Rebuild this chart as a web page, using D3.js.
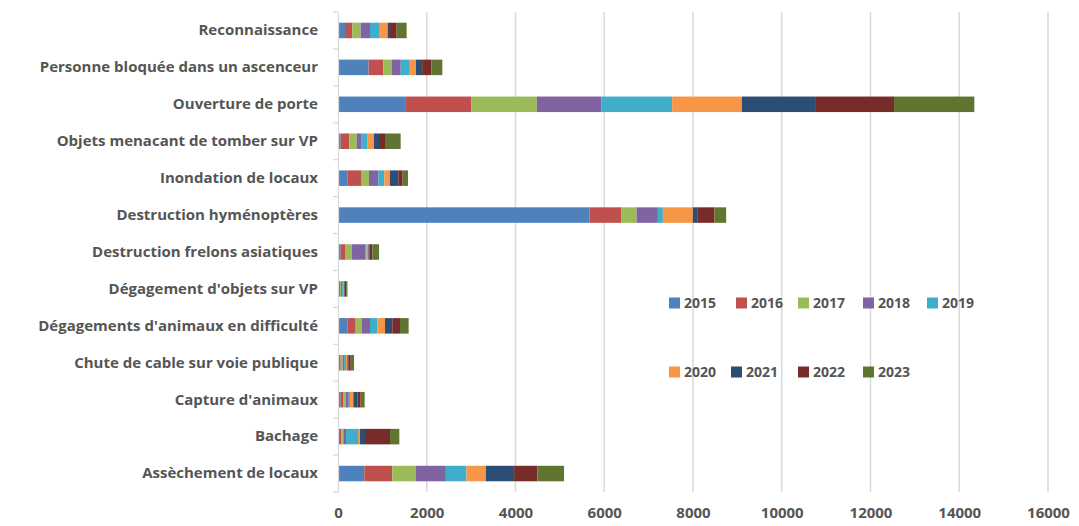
<!DOCTYPE html>
<html><head><meta charset="utf-8">
<script src="https://cdn.jsdelivr.net/npm/d3@7"></script>
<style>
html,body{margin:0;padding:0;background:#fff;}
svg{display:block;}
text{font-family:"Open Sans","DejaVu Sans",sans-serif;}
</style></head>
<body><svg id="c" width="1079" height="526"></svg>
<script>
const categories = ["Reconnaissance","Personne bloquée dans un ascenceur","Ouverture de porte","Objets menacant de tomber sur VP","Inondation de locaux","Destruction hyménoptères","Destruction frelons asiatiques","Dégagement d'objets sur VP","Dégagements d'animaux en difficulté","Chute de cable sur voie publique","Capture d'animaux","Bachage","Assèchement de locaux"];
const years = ["2015","2016","2017","2018","2019","2020","2021","2022","2023"];
const v2015 = [158, 690, 1530, 60, 210, 5670, 60, 23, 210, 23, 60, 23, 593];
const v2016 = [165, 330, 1470, 195, 323, 720, 98, 23, 188, 38, 53, 53, 630];
const v2017 = [188, 195, 1480, 165, 165, 338, 150, 23, 135, 45, 60, 45, 533];
const v2018 = [210, 198, 1460, 113, 210, 480, 315, 23, 188, 30, 68, 60, 675];
const v2019 = [203, 205, 1590, 135, 135, 113, 23, 23, 165, 45, 30, 270, 465];
const v2020 = [195, 140, 1570, 143, 128, 675, 38, 15, 173, 30, 75, 45, 435];
const v2021 = [53, 138, 1670, 113, 188, 113, 23, 15, 165, 23, 90, 113, 638];
const v2022 = [150, 210, 1760, 135, 98, 375, 68, 38, 173, 53, 75, 563, 525];
const v2023 = [225, 245, 1810, 353, 120, 263, 150, 30, 195, 75, 90, 210, 600];
const xTicks = [0,2000,4000,6000,8000,10000,12000,14000,16000];
const colors = ["#4F81BD","#C0504D","#9BBB59","#8064A2","#3FAECB","#F79646","#2C4D75","#772C2A","#5F7530"];

const series = [v2015,v2016,v2017,v2018,v2019,v2020,v2021,v2022,v2023];
const rows = categories.map((c,i)=>{const o={cat:c}; years.forEach((y,j)=>o[y]=series[j][i]); return o;});
const stack = d3.stack().keys(years)(rows);

const svg = d3.select("#c");
const x = d3.scaleLinear().domain([0,16000]).range([338,1048]);
const y = d3.scaleBand().domain(categories).range([12,492]).paddingInner(0.58).paddingOuter(0.29);

// gridlines
svg.append("g").selectAll("line").data(xTicks.slice(1)).join("line")
  .attr("x1",d=>x(d)).attr("x2",d=>x(d)).attr("y1",12).attr("y2",492)
  .attr("stroke","#d9d9d9").attr("stroke-width",1.5);

// bars
svg.append("g").selectAll("g").data(stack).join("g")
  .attr("fill",(d,i)=>colors[i])
  .selectAll("rect").data(d=>d).join("rect")
  .attr("x",d=>x(d[0])).attr("width",d=>x(d[1])-x(d[0]))
  .attr("y",d=>y(d.data.cat)).attr("height",y.bandwidth());

// y axis
const yAxis = d3.axisLeft(y).tickSize(0).tickPadding(20);
const gy = svg.append("g").attr("transform","translate(338,0)").call(yAxis);
gy.select(".domain").attr("stroke","#d9d9d9").attr("stroke-width",1.2);
gy.selectAll("text").attr("font-size","15px").attr("font-weight","700").attr("fill","#555555")
  .style("font-family","'Open Sans',sans-serif");
// category separator ticks
const sepY = d3.range(categories.length+1).map(i=>12 + i*((492-12)/categories.length));
gy.append("g").selectAll("line").data(sepY).join("line")
  .attr("x1",-5).attr("x2",0).attr("y1",d=>d).attr("y2",d=>d)
  .attr("stroke","#d9d9d9").attr("stroke-width",1.2);

// x axis
const xAxis = d3.axisBottom(x).tickValues(xTicks).tickSize(0).tickPadding(8).tickFormat(d3.format("d"));
const gx = svg.append("g").attr("transform","translate(0,499)").call(xAxis);
gx.select(".domain").remove();
gx.selectAll("text").attr("font-size","15px").attr("font-weight","700").attr("fill","#555555")
  .style("font-family","'Open Sans',sans-serif");

// legend
const legPos = [[669,303],[736,303],[798,303],[863,303],[927,303],[669,372],[731,372],[798,372],[863,372]];
const leg = svg.append("g").selectAll("g").data(years).join("g")
  .attr("transform",(d,i)=>`translate(${legPos[i][0]},${legPos[i][1]})`);
leg.append("rect").attr("x",0).attr("y",-5.5).attr("width",11).attr("height",11).attr("fill",(d,i)=>colors[i]);
leg.append("text").attr("x",15).attr("y",0).attr("dy","0.36em").text(d=>d)
  .attr("font-size","14px").attr("font-weight","700").attr("fill","#555555");
</script></body></html>
